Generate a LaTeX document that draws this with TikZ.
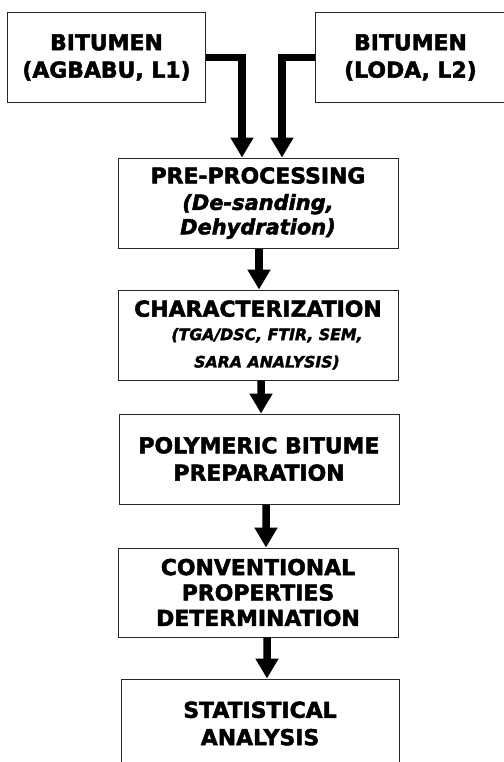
\documentclass[tikz,border=0pt]{standalone}
\usepackage{fontspec}
\setmainfont{DejaVu Sans}[BoldFeatures={FakeBold=2.2},BoldItalicFeatures={FakeBold=2.2}]
\usetikzlibrary{arrows.meta}
\tikzset{
  box/.style={draw=black!85, line width=1bp, rectangle, align=center, inner sep=0pt,
    font=\fontsize{22}{27.5}\selectfont\bfseries},
  arr/.style={line width=7.5bp, -{Triangle[width=22bp,length=20bp]}, line join=miter},
}
\newcommand{\subA}[1]{{\fontsize{21}{24.5}\selectfont\bfseries\itshape #1}}
\newcommand{\subB}[1]{{\fontsize{15.8}{20}\selectfont\bfseries\itshape\hspace*{18bp}#1}}
\begin{document}
\begin{tikzpicture}[x=1bp,y=-1bp]
\useasboundingbox (0,0) rectangle (504,762);
\node[box, minimum width=197bp, minimum height=89bp] (l1) at (106.5,57.5) {BITUMEN\\(AGBABU, L1)};
\node[box, minimum width=191bp, minimum height=89bp] (l2) at (410.5,57.5) {BITUMEN\\(LODA, L2)};
\node[box, minimum width=280bp, minimum height=90bp] (pre) at (258,203) {PRE-PROCESSING\\[-1bp]\subA{(De-sanding,}\\[-3bp]\subA{Dehydration)}};
\node[box, minimum width=280bp, minimum height=90bp] (char) at (258,335) {CHARACTERIZATION\\[-4bp]\subB{(TGA/DSC, FTIR, SEM,}\\\subB{SARA ANALYSIS)}};
\node[box, minimum width=280bp, minimum height=90bp] (poly) at (259,459) {POLYMERIC BITUME\\PREPARATION};
\node[box, minimum width=280bp, minimum height=89bp] (conv) at (258,592.5) {CONVENTIONAL\\[-2bp]PROPERTIES\\[-2bp]DETERMINATION};
\node[box, minimum width=278bp, minimum height=89bp] (stat) at (260,723.5) {STATISTICAL\\ANALYSIS};
\draw[arr] (l1.east) -| ([xshift=-16bp]pre.north);
\draw[arr] (l2.west) -| ([xshift=24bp]pre.north);
\draw[arr] ([xshift=1bp]pre.south) -- ([xshift=1bp]char.north);
\draw[arr] ([xshift=3bp]char.south) -- ([xshift=2bp]poly.north);
\draw[arr] ([xshift=7bp]poly.south) -- ([xshift=8bp]conv.north);
\draw[arr] ([xshift=9bp]conv.south) -- ([xshift=7bp]stat.north);
\end{tikzpicture}
\end{document}
